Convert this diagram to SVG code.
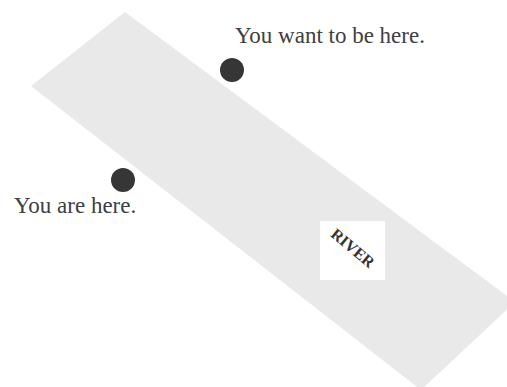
<svg xmlns="http://www.w3.org/2000/svg" width="507" height="387" viewBox="0 0 507 387">
  <style>
    .label { font-family: "Liberation Serif", "Times New Roman", serif; font-size: 23px; fill: #404040; }
    .dot { fill: #363636; }
    .river { fill: #e9e9e9; }
    .sign { fill: #ffffff; }
    .signtext { font-family: "Liberation Serif", "Times New Roman", serif; font-size: 16px; font-weight: bold; fill: #333333; }
  </style>
  <rect width="507" height="387" fill="#ffffff"/>
  <g id="river">
    <polygon class="river" points="125,12 515,302 421,390 31,86"/>
  </g>
  <g id="river-sign">
    <rect class="sign" x="320" y="221" width="65" height="59"/>
    <text class="signtext" transform="translate(353,248) rotate(40)" text-anchor="middle" dominant-baseline="central">RIVER</text>
  </g>
  <g id="target">
    <circle class="dot" cx="232" cy="70" r="12"/>
    <text class="label" x="235" y="43">You want to be here.</text>
  </g>
  <g id="start">
    <circle class="dot" cx="123" cy="180" r="12"/>
    <text class="label" x="14" y="213">You are here.</text>
  </g>
  <g id="connectors"/>
</svg>
